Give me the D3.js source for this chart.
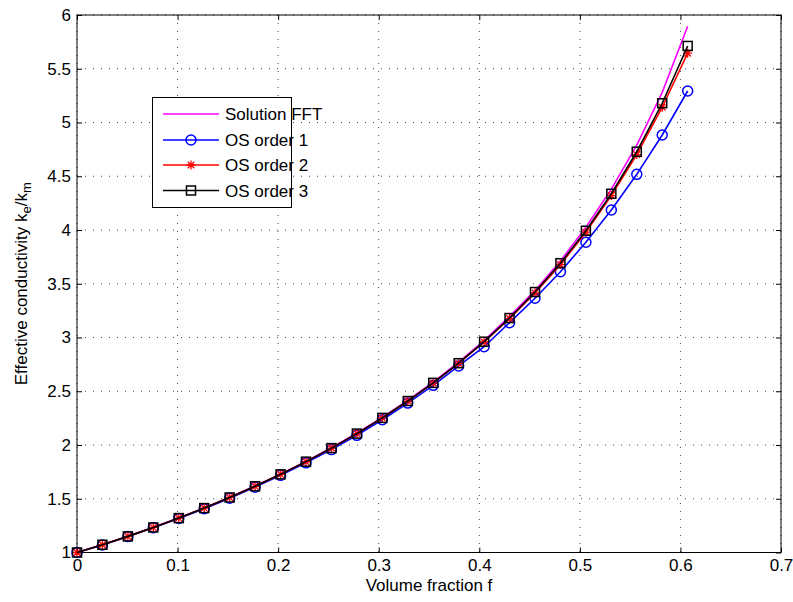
<!DOCTYPE html>
<html>
<head>
<meta charset="utf-8">
<script src="https://cdn.jsdelivr.net/npm/d3@7"></script>
<style>
  body { margin: 0; background: #fff; }
  text { font-family: "Liberation Sans", Arial, sans-serif; }
</style>
</head>
<body>
<svg id="chart"></svg>
<script>
// volume fractions (25 points, step ~0.0253)
var fvals = [0, 0.0253, 0.0506, 0.0759, 0.1012, 0.1265, 0.1518, 0.1771, 0.2024, 0.2277,
    0.2530, 0.2783, 0.3036, 0.3289, 0.3542, 0.3795, 0.4048, 0.4301, 0.4554, 0.4807,
    0.5060, 0.5313, 0.5566, 0.5819, 0.6072];

var fft = [1.000, 1.072, 1.150, 1.234, 1.321, 1.414, 1.513, 1.618, 1.729, 1.848,
    1.974, 2.110, 2.257, 2.415, 2.585, 2.770, 2.972, 3.196, 3.437, 3.712,
    4.025, 4.380, 4.790, 5.280, 5.895];
var os1 = [1.000, 1.070, 1.148, 1.230, 1.317, 1.408, 1.505, 1.608, 1.718, 1.834,
    1.957, 2.090, 2.235, 2.390, 2.555, 2.735, 2.914, 3.138, 3.365, 3.612,
    3.886, 4.186, 4.518, 4.884, 5.293];
var os2 = [1.000, 1.072, 1.150, 1.233, 1.320, 1.413, 1.512, 1.616, 1.727, 1.845,
    1.971, 2.106, 2.252, 2.409, 2.577, 2.759, 2.958, 3.176, 3.415, 3.678,
    3.980, 4.320, 4.702, 5.142, 5.645];
var os3 = [1.000, 1.072, 1.150, 1.233, 1.320, 1.413, 1.512, 1.616, 1.727, 1.845,
    1.971, 2.106, 2.252, 2.409, 2.578, 2.761, 2.961, 3.181, 3.423, 3.691,
    3.993, 4.337, 4.728, 5.179, 5.712];

var xTicks = [0, 0.1, 0.2, 0.3, 0.4, 0.5, 0.6, 0.7];
var yTicks = [1, 1.5, 2, 2.5, 3, 3.5, 4, 4.5, 5, 5.5, 6];

var series = [
    {name: "Solution FFT", values: fft, color: "#ff00ff", marker: "none"},
    {name: "OS order 1", values: os1, color: "#0000ff", marker: "circle"},
    {name: "OS order 2", values: os2, color: "#ff0000", marker: "star"},
    {name: "OS order 3", values: os3, color: "#000000", marker: "square"}
];

var width = 793, height = 602;
var padL = 77, padR = 781, padT = 15, padB = 552.5;
var fs = 17;

var svg = d3.select("#chart").attr("width", width).attr("height", height);

var x = d3.scaleLinear().domain([0, 0.7]).range([padL, padR]);
var y = d3.scaleLinear().domain([1, 6]).range([padB, padT]);

// grid (dotted)
var grid = svg.append("g");
xTicks.forEach(function(t) {
    grid.append("line")
        .attr("x1", x(t)).attr("x2", x(t)).attr("y1", padT).attr("y2", padB)
        .attr("stroke", "#444").attr("stroke-width", 1).attr("stroke-dasharray", "1,7");
});
yTicks.forEach(function(t) {
    grid.append("line")
        .attr("x1", padL).attr("x2", padR).attr("y1", y(t)).attr("y2", y(t))
        .attr("stroke", "#444").attr("stroke-width", 1).attr("stroke-dasharray", "1,7");
});

// axes: ticks inside, labels outside
var xAxis = d3.axisBottom(x).tickValues(xTicks).tickSizeInner(-5).tickSizeOuter(0)
    .tickPadding(6).tickFormat(d3.format("~g"));
var yAxis = d3.axisLeft(y).tickValues(yTicks).tickSizeInner(-5).tickSizeOuter(0)
    .tickPadding(6).tickFormat(d3.format("~g"));

var gx = svg.append("g").attr("transform", "translate(0," + padB + ")").call(xAxis);
var gy = svg.append("g").attr("transform", "translate(" + padL + ",0)").call(yAxis);
var gxTop = svg.append("g").attr("transform", "translate(0," + padT + ")")
    .call(d3.axisTop(x).tickValues(xTicks).tickSizeInner(-5).tickSizeOuter(0).tickFormat(""));
var gyRight = svg.append("g").attr("transform", "translate(" + padR + ",0)")
    .call(d3.axisRight(y).tickValues(yTicks).tickSizeInner(-5).tickSizeOuter(0).tickFormat(""));

[gx, gy, gxTop, gyRight].forEach(function(g) {
    g.select(".domain").remove();
    g.selectAll("line").attr("stroke", "#000");
    g.selectAll("text").attr("font-size", fs).attr("fill", "#000")
        .style("font-family", "'Liberation Sans', Arial, sans-serif");
});

svg.append("rect")
    .attr("x", padL).attr("y", padT).attr("width", padR - padL).attr("height", padB - padT)
    .attr("fill", "none").attr("stroke", "#000").attr("stroke-width", 1);

// axis labels
svg.append("text")
    .attr("x", x(0.35)).attr("y", 591).attr("text-anchor", "middle")
    .attr("font-size", fs).text("Volume fraction f");

var ylab = svg.append("text")
    .attr("transform", "translate(27," + ((padT + padB) / 2) + ") rotate(-90)")
    .attr("text-anchor", "middle").attr("font-size", fs);
ylab.append("tspan").text("Effective conductivity k");
ylab.append("tspan").attr("baseline-shift", "-30%").attr("font-size", 13).text("e");
ylab.append("tspan").text("/k");
ylab.append("tspan").attr("baseline-shift", "-30%").attr("font-size", 13).text("m");

// markers
function drawMarker(g, kind, cx, cy, color) {
    if (kind == "circle") {
        g.append("circle").attr("cx", cx).attr("cy", cy).attr("r", 5)
            .attr("fill", "none").attr("stroke", color).attr("stroke-width", 1.5);
    } else if (kind == "square") {
        g.append("rect").attr("x", cx - 4.5).attr("y", cy - 4.5).attr("width", 9).attr("height", 9)
            .attr("fill", "none").attr("stroke", color).attr("stroke-width", 1.5);
    } else if (kind == "star") {
        var s = 4.5, d = 3.3;
        var p = "M" + (cx - s) + "," + cy + "L" + (cx + s) + "," + cy +
            "M" + cx + "," + (cy - s) + "L" + cx + "," + (cy + s) +
            "M" + (cx - d) + "," + (cy - d) + "L" + (cx + d) + "," + (cy + d) +
            "M" + (cx - d) + "," + (cy + d) + "L" + (cx + d) + "," + (cy - d);
        g.append("path").attr("d", p).attr("stroke", color).attr("stroke-width", 1.3).attr("fill", "none");
    }
}

var line = d3.line()
    .x(function(d, i) { return x(fvals[i]); })
    .y(function(d) { return y(d); });

series.forEach(function(s) {
    var g = svg.append("g");
    g.append("path").attr("d", line(s.values))
        .attr("fill", "none").attr("stroke", s.color).attr("stroke-width", 1.6);
    s.values.forEach(function(v, i) {
        drawMarker(g, s.marker, x(fvals[i]), y(v), s.color);
    });
});

// legend
var lg = svg.append("g");
var lx = 152.5, ly = 97.5, lw = 139, lh = 110;
lg.append("rect").attr("x", lx).attr("y", ly).attr("width", lw).attr("height", lh)
    .attr("fill", "#fff").attr("stroke", "#000").attr("stroke-width", 1);
var rows = [114, 140, 165, 190.5];
series.forEach(function(s, i) {
    var yy = rows[i];
    lg.append("line").attr("x1", 163).attr("x2", 219).attr("y1", yy).attr("y2", yy)
        .attr("stroke", s.color).attr("stroke-width", 1.6);
    drawMarker(lg, s.marker, 191, yy, s.color);
    lg.append("text").attr("x", 225).attr("y", yy + 6).attr("font-size", fs).text(s.name);
});
</script>
</body>
</html>
